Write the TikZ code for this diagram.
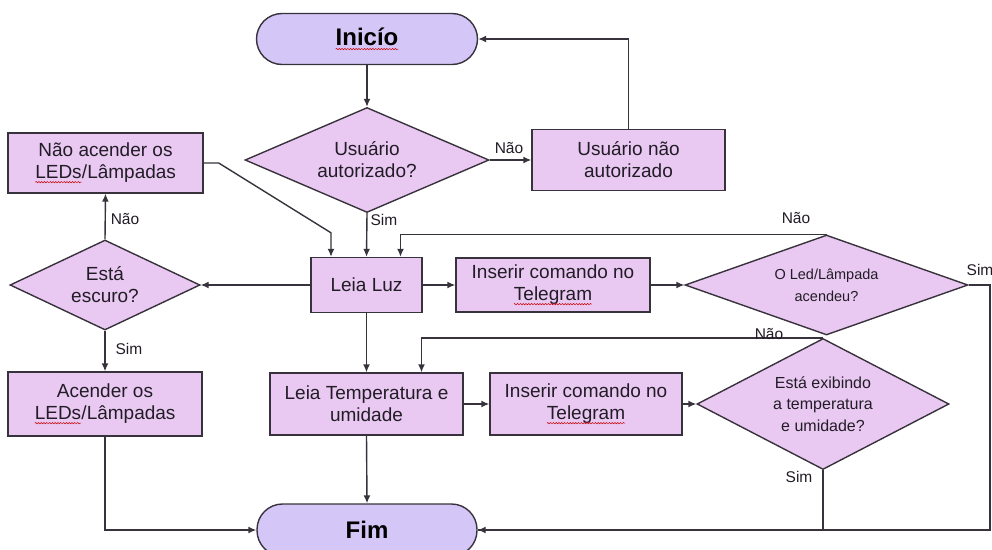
\documentclass[tikz,border=0pt]{standalone}
\usepackage{fontspec}
\setmainfont{Liberation Sans}
\usetikzlibrary{arrows.meta,shapes.geometric,decorations.pathmorphing}
\definecolor{boxfill}{HTML}{E9C9F2}
\definecolor{termfill}{HTML}{D4C6F6}
\definecolor{edgecol}{HTML}{38323C}
\definecolor{txtcol}{HTML}{221C26}
\newcommand\wavy[1]{\tikz[baseline=(wv.base)]{\node[shape=rectangle,draw=none,fill=none,inner sep=0pt,outer sep=0pt,minimum width=0pt,minimum height=0pt,anchor=base] (wv) {#1};\draw[sharp corners,draw=red!80!black,line width=0.5pt,decorate,decoration={snake,amplitude=0.7pt,segment length=2.8pt}] ([yshift=-3.5pt]wv.base west) -- ([yshift=-3.5pt]wv.base east);}}
\begin{document}
\begin{tikzpicture}[x=1pt,y=-1pt,
  proc/.style={draw=edgecol,line width=1.4pt,fill=boxfill,shape=rectangle,inner sep=0pt,align=center,text=txtcol,font=\fontsize{19}{22}\selectfont},
  dec/.style={draw=edgecol,line width=1.4pt,fill=boxfill,shape=diamond,inner sep=0pt,align=center,text=txtcol,font=\fontsize{19}{22}\selectfont},
  term/.style={draw=edgecol,line width=1.4pt,fill=termfill,shape=rectangle,rounded corners=25.5pt,inner sep=0pt,text=black,font=\fontsize{24}{28}\selectfont\bfseries},
  conn/.style={draw=edgecol,line width=1.4pt,-{Latex[length=8pt,width=7pt]}},
  line/.style={draw=edgecol,line width=1.4pt},
  lbl/.style={inner sep=0pt,text=txtcol,font=\fontsize{15.5}{18}\selectfont}]
\useasboundingbox (0,0) rectangle (992,549);

% nodes
\node[term,minimum width=221pt,minimum height=51pt] (start) at (367,39) {\wavy{Inicío}};
\node[dec,aspect=2.32,minimum width=244pt,minimum height=105pt] (q1) at (367,160) {Usuário\\autorizado?};
\node[proc,minimum width=193pt,minimum height=61pt] (unauth) at (628.5,160) {Usuário não\\autorizado};
\node[proc,minimum width=195pt,minimum height=60pt] (noturn) at (105.5,163) {Não acender os\\\wavy{LEDs}/Lâmpadas};
\node[dec,aspect=2.11,minimum width=190pt,minimum height=90pt] (dark) at (105,285) {Está\\escuro?};
\node[proc,minimum width=111pt,minimum height=55pt] (luz) at (366.5,285) {Leia Luz};
\node[proc,minimum width=194pt,minimum height=54pt] (cmd1) at (553,285) {Inserir comando no\\\wavy{Telegram}};
\node[dec,aspect=2.83,minimum width=283pt,minimum height=100pt,font=\fontsize{14.5}{22}\selectfont] (q2) at (826.5,285) {O Led/Lâmpada\\acendeu?};
\node[proc,minimum width=194pt,minimum height=64pt] (acender) at (105,404) {Acender os\\\wavy{LEDs}/Lâmpadas};
\node[proc,minimum width=193pt,minimum height=62pt] (temp) at (366.5,404) {Leia Temperatura e\\umidade};
\node[proc,minimum width=192pt,minimum height=62pt] (cmd2) at (586,404) {Inserir comando no\\\wavy{Telegram}};
\node[dec,aspect=1.92,minimum width=252pt,minimum height=131pt,font=\fontsize{16}{21.5}\selectfont] (q3) at (823,404) {Está exibindo\\a temperatura\\e umidade?};
\node[term,minimum width=220pt,minimum height=52pt] (end) at (367,530) {Fim};

\coordinate (rt) at (990,0);

% connectors
\draw[conn] (start.south) -- (q1.north);
\draw[conn] (q1.east) -- (unauth.west);
\draw[conn] (unauth.north) |- (start.east);
\draw[conn] (q1.south) -- (luz.north);
\draw[conn] (noturn.east) -- ++(15,0) -- ([xshift=-35.5pt,yshift=24pt]luz.north) -- ([xshift=-35.5pt]luz.north);
\draw[conn] (luz.west) -- (dark.east);
\draw[conn] (dark.north) -- (noturn.south);
\draw[conn] (dark.south) -- (acender.north);
\draw[conn] (acender.south) |- (end.west);
\draw[conn] (luz.south) -- (temp.north);
\draw[conn] (luz.east) -- (cmd1.west);
\draw[conn] (cmd1.east) -- (q2.west);
\draw[conn] (q2.north) -| ([xshift=34pt]luz.north);
\draw[conn] (q2.east) -- (q2.east -| rt) |- (end.east);
\draw[conn] (temp.south) -- (end.north);
\draw[conn] (temp.east) -- (cmd2.west);
\draw[conn] (cmd2.east) -- (q3.west);
\draw[conn] (q3.north) -| ([xshift=55pt]temp.north);
\draw[line] (q3.south) |- (end.east);

% labels
\node[lbl] (l1) at (509,148) {Não};
\node[lbl] (l2) at (384,220) {Sim};
\node[lbl] (l3) at (125,219) {Não};
\node[lbl] (l4) at (129,349) {Sim};
\node[lbl] (l5) at (796,218) {Não};
\node[lbl] (l6) at (980,270) {Sim};
\node[lbl] (l7) at (769,334) {Não};
\node[lbl] (l8) at (799,477) {Sim};
\end{tikzpicture}
\end{document}
